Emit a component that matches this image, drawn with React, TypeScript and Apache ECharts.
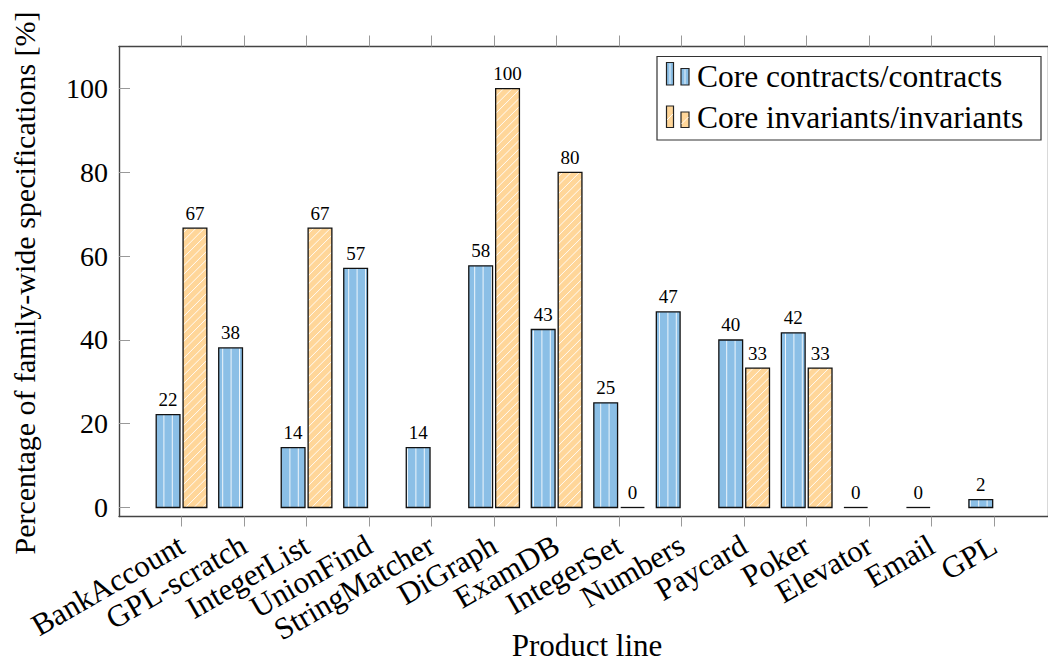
import React, { useEffect, useRef } from 'react';
import * as echarts from 'echarts';

const categories = [
  'BankAccount', 'GPL-scratch', 'IntegerList', 'UnionFind', 'StringMatcher', 'DiGraph', 'ExamDB',
  'IntegerSet', 'Numbers', 'Paycard', 'Poker', 'Elevator', 'Email', 'GPL',
];
const contractsPct: (number | null)[] = [22.2, 38.1, 14.3, 57.1, 14.3, 57.7, 42.5, 25, 46.7, 40, 41.7, 0, 0, 1.9];
const invariantsPct: (number | null)[] = [66.7, null, 66.7, null, null, 100, 80, 0, null, 33.3, 33.3, null, null, null];
const yTickValues = [0, 20, 40, 60, 80, 100];
const seriesNames = ['Core contracts/contracts', 'Core invariants/invariants'];
const xTitle = 'Product line';
const yTitle = 'Percentage of family-wide specifications [%]';

const xTickValues = categories.map((_, i) => i);

const FONT = 'Liberation Serif';
const BLUE = '#8bbfe6';
const ORANGE = '#ffd699';
const PERIOD = 8.4;
const PHASE = 4.3;

function toData(arr: (number | null)[]) {
  const out: number[][] = [];
  arr.forEach((v, i) => {
    if (v !== null && v !== undefined) out.push([i, v]);
  });
  return out;
}

function txt(text: string, fontSize: number, align: string) {
  return {
    text,
    font: `${fontSize}px "${FONT}", serif`,
    fontSize,
    fontFamily: `"${FONT}", serif`,
    fill: '#000',
    align,
    verticalAlign: 'middle',
  };
}

function makeRenderItem(offsetFrac: number, kind: 'v' | 'd') {
  return (params: any, api: any) => {
    const xi = api.value(0);
    const v = api.value(1);
    const unit = api.size([1, 0])[0];
    const base = api.coord([xi, 0]);
    const top = api.coord([xi, v]);
    const w = unit * 0.38;
    const cx = base[0] + offsetFrac * unit;
    const L = cx - w / 2;
    const R = cx + w / 2;
    const T = top[1];
    const B = base[1];
    const children: any[] = [];
    if (B - T > 0.5) {
      children.push({
        type: 'rect',
        shape: { x: L, y: T, width: w, height: B - T },
        style: { fill: kind === 'v' ? BLUE : ORANGE },
      });
      if (kind === 'v') {
        const k = Math.ceil((L - PHASE) / PERIOD);
        for (let x = PHASE + k * PERIOD; x < R - 0.8; x += PERIOD) {
          if (x > L + 0.8) {
            children.push({
              type: 'line',
              shape: { x1: x, y1: T + 0.5, x2: x, y2: B - 0.5 },
              style: { stroke: 'rgba(255,255,255,0.85)', lineWidth: 1 },
            });
          }
        }
      } else {
        const cMin = L + T;
        const cMax = R + B;
        const k0 = Math.ceil((cMin - PHASE) / PERIOD);
        for (let c = PHASE + k0 * PERIOD; c < cMax; c += PERIOD) {
          const x1 = Math.max(L, c - B);
          const x2 = Math.min(R, c - T);
          if (x2 - x1 > 0.5) {
            children.push({
              type: 'line',
              shape: { x1, y1: c - x1, x2, y2: c - x2 },
              style: { stroke: 'rgba(255,255,255,0.9)', lineWidth: 1 },
            });
          }
        }
      }
      children.push({
        type: 'rect',
        shape: { x: L, y: T, width: w, height: B - T },
        style: { fill: 'none', stroke: '#111', lineWidth: 1.3 },
      });
    } else {
      children.push({
        type: 'line',
        shape: { x1: L, y1: B, x2: R, y2: B },
        style: { stroke: '#111', lineWidth: 1.3 },
      });
    }
    children.push({
      type: 'text',
      x: cx,
      y: T - 15,
      style: txt(String(Math.round(v)), 19, 'center'),
    });
    return { type: 'group', children };
  };
}

export default function App() {
  const ref = useRef<HTMLDivElement>(null);
  useEffect(() => {
    if (!ref.current) return;
    const chart = echarts.init(ref.current, undefined, { renderer: 'svg' });
    const frame = { show: true, onZero: false, lineStyle: { color: '#444', width: 1.4 } };
    const option: any = {
      animation: false,
      backgroundColor: '#fff',
      textStyle: { fontFamily: FONT },
      grid: { left: 119, top: 46.5, right: -3, bottom: 145.5, containLabel: false },
      xAxis: [
        {
          type: 'value',
          position: 'bottom',
          min: -1,
          max: 13.86,
          axisLine: frame,
          splitLine: { show: false },
          axisTick: {
            show: true,
            inside: false,
            length: 10,
            customValues: xTickValues,
            lineStyle: { color: '#999', width: 1 },
          },
          axisLabel: {
            show: true,
            customValues: xTickValues,
            rotate: 30,
            margin: 26,
            fontSize: 31,
            fontFamily: FONT,
            color: '#000',
            formatter: (val: number) => categories[Math.round(val)] ?? '',
          },
        },
        {
          type: 'value',
          position: 'top',
          min: -1,
          max: 13.86,
          axisLine: frame,
          splitLine: { show: false },
          axisTick: {
            show: true,
            inside: false,
            length: 11,
            customValues: xTickValues,
            lineStyle: { color: '#999', width: 1 },
          },
          axisLabel: { show: false },
        },
      ],
      yAxis: [
        {
          type: 'value',
          position: 'left',
          min: -2.15,
          max: 110.08,
          axisLine: frame,
          splitLine: { show: false },
          axisTick: {
            show: true,
            inside: true,
            length: 11,
            customValues: yTickValues,
            lineStyle: { color: '#999', width: 1 },
          },
          axisLabel: {
            show: true,
            customValues: yTickValues,
            margin: 11,
            fontSize: 28,
            fontFamily: FONT,
            color: '#000',
          },
        },
        {
          type: 'value',
          position: 'right',
          min: -2.15,
          max: 110.08,
          axisLine: frame,
          splitLine: { show: false },
          axisTick: { show: false },
          axisLabel: { show: false },
        },
      ],
      series: [
        {
          type: 'custom',
          name: seriesNames[0],
          xAxisIndex: 0,
          yAxisIndex: 0,
          encode: { x: 0, y: 1 },
          data: toData(contractsPct),
          renderItem: makeRenderItem(-0.215, 'v'),
        },
        {
          type: 'custom',
          name: seriesNames[1],
          xAxisIndex: 0,
          yAxisIndex: 0,
          encode: { x: 0, y: 1 },
          data: toData(invariantsPct),
          renderItem: makeRenderItem(0.215, 'd'),
        },
      ],
      graphic: [
        {
          type: 'text',
          x: 24,
          y: 283,
          rotation: Math.PI / 2,
          style: txt(yTitle, 30, 'center'),
        },
        {
          type: 'text',
          x: 587,
          y: 645,
          style: txt(xTitle, 31, 'center'),
        },
        {
          type: 'group',
          children: [
            {
              type: 'rect',
              shape: { x: 657, y: 56.5, width: 384, height: 83.5 },
              style: { fill: '#fff', stroke: '#333', lineWidth: 1.2 },
            },
            { type: 'rect', shape: { x: 666.5, y: 62.5, width: 7, height: 22.5 }, style: { fill: BLUE, stroke: '#222', lineWidth: 1.2 } },
            { type: 'line', shape: { x1: 670, y1: 63.5, x2: 670, y2: 84 }, style: { stroke: 'rgba(255,255,255,0.8)', lineWidth: 1 } },
            { type: 'rect', shape: { x: 681, y: 68.5, width: 8, height: 16.5 }, style: { fill: BLUE, stroke: '#222', lineWidth: 1.2 } },
            { type: 'line', shape: { x1: 685, y1: 69.5, x2: 685, y2: 84 }, style: { stroke: 'rgba(255,255,255,0.8)', lineWidth: 1 } },
            { type: 'text', x: 697, y: 76, style: txt(seriesNames[0], 31.5, 'left') },
            { type: 'rect', shape: { x: 666.5, y: 106, width: 7, height: 21.5 }, style: { fill: ORANGE, stroke: '#222', lineWidth: 1.2 } },
            { type: 'line', shape: { x1: 667, y1: 120, x2: 673, y2: 114 }, style: { stroke: 'rgba(255,255,255,0.9)', lineWidth: 1 } },
            { type: 'rect', shape: { x: 681, y: 112, width: 8, height: 15.5 }, style: { fill: ORANGE, stroke: '#222', lineWidth: 1.2 } },
            { type: 'line', shape: { x1: 681.5, y1: 124, x2: 688.5, y2: 117 }, style: { stroke: 'rgba(255,255,255,0.9)', lineWidth: 1 } },
            { type: 'text', x: 697, y: 117, style: txt(seriesNames[1], 31.5, 'left') },
          ],
        },
      ],
    };
    chart.setOption(option);
    return () => chart.dispose();
  }, []);
  return (
    <div
      ref={ref}
      style={{ position: 'absolute', left: 0, top: 0, width: 1048, height: 662, background: '#fff' }}
    />
  );
}
